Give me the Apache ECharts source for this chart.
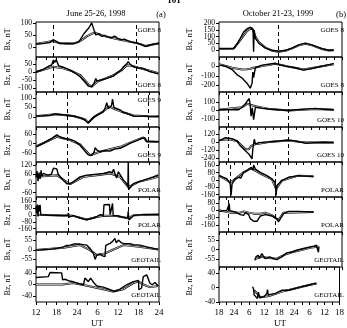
<!DOCTYPE html>
<html lang="en">
  <head>
    <meta charset="UTF-8" />
    <title>Magnetic field, June 1998 / October 1999</title>
    <script src="https://cdn.jsdelivr.net/npm/echarts@6.0.0/dist/echarts.min.js"></script>
    <style>
      html, body { margin: 0; padding: 0; background: #fff; }
    </style>
  </head>
  <body>
    <div id="main" style="width: 347px; height: 328px"></div>
    <script type="text/javascript">
      // hours from start of each interval, [hour, nT]
      // (a) June 25-26, 1998, start 12 UT
      const junG8BxObs = [[0,12],[2,14],[4,18],[5,30],[5.5,24],[7,15],[9,13],[11,14],[12.5,20],[14,55],[15.5,80],[16.3,100],[17,70],[17.5,50],[18.5,55],[19.2,44],[20,48],[21,42],[21.5,50],[22,38],[23,45],[24,35],[25,30],[26,32],[27,25],[28,20],[29,18],[30,14],[31,10],[32,2],[33,6],[34,10],[35,12],[36,15]];
      const junG8BxMod = [[0,12],[5,25],[7,15],[11,14],[13,25],[15,45],[17,60],[18,55],[20,45],[24,32],[28,20],[30,14],[32,4],[36,15]];
      const junG8BzObs = [[0,0],[2,15],[4,40],[4.6,44],[5.1,75],[5.5,60],[5.9,78],[6.6,40],[8,30],[10,12],[11.5,-8],[12.9,-29],[14,-55],[15.3,-88],[16.3,-92],[17,-70],[17.5,-40],[17.8,-55],[19,-50],[20.7,-40],[22.7,-25],[23.6,-8],[25,15],[25.6,33],[26.5,50],[27,65],[27.5,50],[28.5,33],[30,25],[31.4,23],[33,5],[35.8,-12]];
      const junG8BzMod = [[0,0],[5,33],[8,23],[10,10],[13,-20],[15.5,-80],[16.3,-92],[18,-60],[22.7,-20],[25,10],[26.6,42],[28,40],[30,27],[33,10],[35.8,-8]];
      const junG9BxObs = [[0,5],[2,6],[4,8],[5.6,16],[8,12],[10.9,5],[13,-5],[14.3,-16],[15.3,-33],[16.3,-10],[17.8,10],[19,20],[19.7,28],[20.3,50],[20.7,75],[21.2,45],[21.7,55],[22.1,60],[22.4,95],[22.8,50],[23.1,45],[24.6,38],[25.5,25],[26.5,20],[28.5,5],[30,3],[32,6],[33,2],[36,3]];
      const junG9BxMod = [[0,4],[5.6,14],[10.9,5],[14.3,-12],[15.3,-30],[17,0],[19.7,30],[21.5,55],[23,42],[25,28],[28.5,8],[33,4],[36,3]];
      const junG9BzObs = [[0,-20],[2.1,2],[4.6,35],[6.1,57],[7,45],[8,35],[10,28],[11.5,15],[12.9,-10],[14,-40],[15.3,-72],[16.3,-74],[17,-55],[17.3,-25],[17.8,-40],[18.7,-52],[20,-45],[21.7,-48],[23,-35],[24.6,-30],[26,-15],[27.5,2],[29.5,20],[30.9,35],[31.9,38],[32.4,15],[34,14],[36,12]];
      const junG9BzMod = [[0,-18],[6.1,45],[10,24],[12.9,-5],[15.8,-74],[18.7,-52],[24.6,-20],[29.5,25],[31.5,40],[32.4,15],[36,12]];
      const junPolBxObs = [[0,40],[0.3,80],[0.6,15],[0.9,70],[1.2,30],[1.5,85],[1.7,45],[2.1,65],[3.5,54],[4.5,60],[5.1,99],[6.1,95],[6.5,60],[7,54],[8,20],[9,-2],[9.5,-10],[10,-2],[10.9,10],[12.9,43],[14.8,54],[17.8,61],[19.7,65],[21.7,76],[22.3,70],[22.7,92],[23.1,65],[23.6,35],[24.1,76],[25,45],[25.6,20],[26.5,0],[26.9,-20],[27,140],[27.1,-40],[28.5,-2],[31.4,20],[34.3,43],[35.8,55]];
      const junPolBxMod = [[0,43],[6.1,54],[9,9],[10,-5],[13.9,43],[17.8,54],[21.7,65],[24.6,43],[27,-25],[30,10],[35.8,43]];
      const junPolBzObs = [[0,100],[0.2,20],[0.4,118],[0.6,-20],[0.8,110],[1.0,40],[1.2,115],[1.4,0],[1.7,0],[4,-5],[8,-10],[9.3,-5],[9.5,20],[9.7,-25],[10.9,-10],[12.9,-37],[14.8,-59],[16.8,-37],[17.8,-22],[18.7,0],[19.7,-5],[19.9,115],[21.5,118],[21.7,0],[22.2,-5],[22.4,130],[22.6,-10],[23.6,-11],[25.6,-30],[26.8,-37],[27,40],[27.2,-60],[28.5,-10],[31.4,5],[36,2]];
      const junPolBzMod = [[0,0],[8,-8],[10.9,-12],[14.8,-55],[17.8,-25],[19.7,-10],[23.6,-15],[27,-40],[28.5,-5],[36,3]];
      const junGeoBxObs = [[0,-2],[4.1,2],[6.1,8],[8,17],[9,25],[10,27],[11,33],[12.9,33],[14.8,27],[15.8,8],[16.8,-21],[17.3,-56],[17.8,-31],[18.7,-25],[19.5,-35],[20.2,-40],[20.4,25],[20.7,27],[21.7,37],[22.5,50],[23.1,66],[23.5,40],[24.1,56],[25,40],[25.6,37],[27.5,35],[28.5,30],[30.4,27],[32.4,17],[34.3,8],[35.8,2]];
      const junGeoBxMod = [[0,-2],[8,12],[12.9,27],[15.8,-2],[17.8,-31],[20.2,-21],[22.5,0],[25.6,27],[29,20],[32.4,12],[35.8,2]];
      const junGeoBzObs = [[0,24],[3.6,27],[4.1,41],[7.5,40],[7.8,16],[8.5,18],[9.5,13],[10.9,10],[11.9,5],[13.9,-1],[14.3,22],[14.8,16],[15.3,10],[16,22],[16.8,8],[17.8,-5],[19.7,-9],[21.7,-18],[23.1,-24],[24.6,-16],[26.5,-1],[28.5,10],[30,14],[30.1,-18],[30.9,-12],[31.4,27],[32.4,33],[33,15],[33.3,5],[34,-1],[34.8,7],[35.8,-5]];
      const junGeoBzMod = [[0,0],[7.8,0],[10.9,5],[15.3,-5],[19.7,-16],[22.5,-24],[25.6,-16],[28.5,5],[30,10],[31.4,0],[33.3,-9],[35.8,-5]];

      // (b) October 21-23, 1999, start 18 UT
      const octG8BxObs = [[0,12],[3,12],[5.7,13],[7,45],[8.3,87],[9.6,134],[10.3,120],[10.9,157],[11.5,150],[12.2,169],[12.9,180],[13.3,150],[13.5,-10],[13.7,150],[14.2,87],[15.5,52],[18.1,16],[20.7,0],[23.3,-7],[25.9,0],[28.5,16],[31.1,40],[33.7,52],[36.3,40],[40.2,12],[42.8,0],[44.8,2]];
      const octG8BxMod = [[0,12],[5.7,13],[8.3,75],[10.9,140],[12.9,165],[14.2,100],[15.5,60],[18.1,20],[20.7,-3],[23.3,-10],[25.9,-3],[28.5,14],[31.1,36],[33.7,48],[36.3,36],[40.2,10],[42.8,-2],[44.8,0]];
      const octG8BzObs = [[0,14],[2.5,3],[5.1,-33],[7,-87],[9,-123],[10.9,-178],[12.2,-232],[12.9,-178],[13.2,-60],[13.5,-120],[14.2,-14],[16.8,14],[22,33],[23.3,22],[25.9,3],[29.8,-14],[33,-40],[36.3,-22],[40.2,3],[44.8,29]];
      const octG8BzMod = [[0,22],[5.1,-14],[9,-33],[10.9,-30],[11.5,-40],[12.2,-25],[13.5,-14],[16.8,3],[22,29],[27,0],[33,-33],[38,-8],[44.8,22]];
      const octG10BxObs = [[0,8],[7.7,8],[9,37],[10.3,77],[10.9,105],[11.5,90],[11.8,138],[12.2,57],[12.5,-65],[13,30],[13.5,-105],[14.2,37],[16.8,24],[20,15],[23.3,8],[27.2,0],[30,8],[33.7,16],[37.6,24],[41,15],[44.8,8]];
      const octG10BxMod = [[0,8],[9,37],[11,77],[14.2,48],[20,16],[27.2,0],[37.6,16],[44.8,8]];
      const octG10BzObs = [[0,14],[2.5,62],[5.1,48],[7,14],[8.3,-58],[10.3,-130],[11.6,-178],[12.9,-250],[13.2,-100],[13.5,-106],[13.8,40],[14.2,-34],[15.5,-10],[19.4,0],[23.3,14],[27.2,29],[29.8,14],[33.7,-19],[37.6,-10],[41,-5],[44.8,-10]];
      const octG10BzMod = [[0,24],[3.8,38],[7,14],[8.3,-34],[10.3,-106],[11.6,-110],[12.5,-60],[14.2,-34],[19.4,0],[27.2,19],[33.7,-10],[44.8,-10]];
      const octPolBxObs = [[0,47],[1.8,29],[3.1,11],[4.4,-43],[4.7,-169],[5.1,-43],[6.4,11],[7.7,29],[8.5,20],[9.6,83],[10.5,95],[11.6,119],[12.6,137],[13.3,110],[13.5,162],[14.2,119],[16.1,83],[18.7,47],[20.6,11],[21.9,-25],[22.3,-169],[22.6,-60],[23.2,-61],[24.5,-7],[27.1,29],[31,47],[36.9,36]];
      const octPolBxMod = [[0,47],[4.4,-25],[5.5,-7],[9.6,83],[12.6,126],[16.5,65],[20.6,10],[22.3,-97],[24.5,-7],[31,47],[36.9,40]];
      const octPolBzObs = [[0,-11],[3.1,0],[3.8,20],[4,73],[4.2,-5],[4.4,-11],[6.4,-18],[8.3,-47],[9.6,-55],[10.3,-25],[11.6,-47],[12.2,-91],[13.5,-120],[14.8,-120],[16.1,-62],[18.1,-47],[20.7,-62],[22.6,-91],[23.2,-127],[23.9,-109],[25.2,-36],[27.1,-11],[31,-11],[36.9,-18]];
      const octPolBzMod = [[0,0],[4.4,-25],[8.3,-25],[9.6,-11],[11.6,-25],[13.5,-36],[16.1,-36],[18.1,-25],[20.7,-55],[23.2,-109],[25.2,-25],[36.9,-18]];
      const octGeoBxObs = [[14,-62],[14.5,-40],[15.3,-33],[15.8,-50],[16.7,-23],[17.2,-35],[18,-52],[19.9,-42],[21,-50],[22.5,-58],[24.5,-42],[26.4,-19],[28.4,-14],[30.3,-4],[32.9,6],[35.5,15],[37,20],[38,25],[38.5,0],[38.8,-15],[39,18]];
      const octGeoBxMod = [[14,-55],[16.7,-42],[19.9,-48],[22.5,-52],[24.5,-38],[26.4,-25],[28.4,-15],[32.9,0],[35.5,10],[38.8,18]];
      const octGeoBzObs = [[13.4,3],[13.8,-5],[14,-20],[15.3,-30],[15.7,-12],[16.1,-28],[16.6,-30],[18,-25],[18.6,-27],[19.1,-15],[19.3,-5],[19.6,-20],[19.9,-20],[22.5,-16],[25.1,-7],[27.7,-7],[30.3,-2],[32.9,3],[35.5,7],[37,10],[38.1,12],[38.5,16],[38.8,12]];
      const octGeoBzMod = [[14,-7],[16.6,-27],[19.9,-23],[25.1,-11],[30.3,-2],[35.5,7],[38.8,12]];

      // tick labels on the UT axes
      const junHourLabels = ["12", "18", "24", "6", "12", "18", "24"];
      const octHourLabels = ["18", "24", "6", "12", "18", "24", "6", "12", "18"];

      const FONT = "Liberation Serif";

      // one entry per panel: column, data, y range, y ticks, component, satellite, dashed times
      const panels = [
        { col: 0, obs: junG8BxObs, mod: junG8BxMod, y: [-42, 104], ticks: [0, 50, 100], comp: "Bx", sat: "GOES 8", satTop: true, dash: [5, 29.3] },
        { col: 0, obs: junG8BzObs, mod: junG8BzMod, y: [-125, 94], ticks: [-100, -50, 0, 50], comp: "Bz", sat: "GOES 8", dash: [5, 29.3] },
        { col: 0, obs: junG9BxObs, mod: junG9BxMod, y: [-53, 132], ticks: [0, 50, 100], comp: "Bx", sat: "GOES 9", satTop: true, dash: [9, 32.9] },
        { col: 0, obs: junG9BzObs, mod: junG9BzMod, y: [-118, 108], ticks: [-60, 0, 60], comp: "Bz", sat: "GOES 9", dash: [9, 32.9] },
        { col: 0, obs: junPolBxObs, mod: junPolBxMod, y: [-89, 140], ticks: [-60, 0, 60, 120], comp: "Bx", sat: "POLAR", dash: [9.5, 27] },
        { col: 0, obs: junPolBzObs, mod: junPolBzMod, y: [-198, 205], ticks: [-160, -80, 0, 80, 160], comp: "Bz", sat: "POLAR", dash: [9.5, 27] },
        { col: 0, obs: junGeoBxObs, mod: junGeoBxMod, y: [-100, 103], ticks: [-55, 0, 55], comp: "Bx", sat: "GEOTAIL", dash: [] },
        { col: 0, obs: junGeoBzObs, mod: junGeoBzMod, y: [-60, 60], ticks: [-40, 0, 40], comp: "Bz", sat: "GEOTAIL", dash: [] },
        { col: 1, obs: octG8BxObs, mod: octG8BxMod, y: [-49, 207], ticks: [0, 50, 100, 150, 200], comp: "Bx", sat: "GOES 8", satTop: true, dash: [23.3] },
        { col: 1, obs: octG8BzObs, mod: octG8BzMod, y: [-272, 100], ticks: [-200, -100, 0], comp: "Bz", sat: "GOES 8", dash: [23.3] },
        { col: 1, obs: octG10BxObs, mod: octG10BxMod, y: [-190, 213], ticks: [-100, 0, 100], comp: "Bx", sat: "GOES 10", dash: [3.5, 27.2] },
        { col: 1, obs: octG10BzObs, mod: octG10BzMod, y: [-298, 221], ticks: [-240, -120, 0, 120], comp: "Bz", sat: "GOES 10", dash: [3.5, 27.2] },
        { col: 1, obs: octPolBxObs, mod: octPolBxMod, y: [-186, 196], ticks: [-160, -80, 0, 80, 160], comp: "Bx", sat: "POLAR", dash: [4.4, 22] },
        { col: 1, obs: octPolBzObs, mod: octPolBzMod, y: [-237, 146], ticks: [-160, -80, 0, 80], comp: "Bz", sat: "POLAR", dash: [3.8, 22] },
        { col: 1, obs: octGeoBxObs, mod: octGeoBxMod, y: [-100, 101], ticks: [-55, 0, 55], comp: "Bx", sat: "GEOTAIL", dash: [] },
        { col: 1, obs: octGeoBzObs, mod: octGeoBzMod, y: [-40, 58], ticks: [-40, 0, 40], comp: "Bz", sat: "GEOTAIL", dash: [] },
      ];

      // layout
      const rowEdges = [22, 57, 92, 127, 162, 197, 232, 267, 302];
      const colLeft = [36, 219];
      const colWidth = 123;
      const colSpan = [36, 48];

      let myChart = echarts.init(document.getElementById("main"), null, { renderer: "canvas" });

      const grids = [], xAxes = [], yAxes = [], series = [], texts = [];

      panels.forEach((p, i) => {
        const row = i % 8;
        const span = colSpan[p.col];
        const labels = p.col === 0 ? junHourLabels : octHourLabels;
        const minorTicks = [];
        for (let h = 0; h <= span; h += 3) minorTicks.push(h);
        const labelTicks = labels.map((_, k) => k * 6);

        grids.push({
          left: colLeft[p.col], width: colWidth,
          top: rowEdges[row], height: rowEdges[row + 1] - rowEdges[row],
          show: true, borderColor: "#000", borderWidth: 1, backgroundColor: "transparent",
        });

        xAxes.push({
          gridIndex: i, type: "value", min: 0, max: span, position: "bottom",
          axisLine: { show: false, onZero: false }, splitLine: { show: false },
          axisTick: { show: true, length: 3, customValues: minorTicks, lineStyle: { color: "#000" } },
          axisLabel: {
            show: row === 7, customValues: labelTicks, margin: 6, hideOverlap: false,
            fontFamily: FONT, fontSize: 9, color: "#000",
            formatter: (v) => labels[Math.round(v / 6)],
          },
        });

        // tick labels sit close together, so they are split over two
        // overlaid axes (even / odd) to stop ECharts hiding any of them
        const evenTicks = p.ticks.filter((_, k) => k % 2 === 0);
        const oddTicks = p.ticks.filter((_, k) => k % 2 === 1);
        const yLabelStyle = { margin: 4, fontFamily: FONT, fontSize: 7.5, color: "#000" };

        yAxes.push({
          gridIndex: i, type: "value", min: p.y[0], max: p.y[1], position: "left",
          axisLine: { show: false, onZero: false }, splitLine: { show: false },
          axisTick: { show: true, length: 3, customValues: p.ticks, lineStyle: { color: "#000" } },
          axisLabel: Object.assign({ customValues: evenTicks }, yLabelStyle),
          name: p.comp + ", nT", nameLocation: "middle", nameRotate: 90,
          nameGap: p.col === 0 ? 24 : 25,
          nameTextStyle: { fontFamily: FONT, fontSize: 8, color: "#000" },
        });
        yAxes.push({
          gridIndex: i, type: "value", min: p.y[0], max: p.y[1], position: "left", offset: 0,
          axisLine: { show: false, onZero: false }, splitLine: { show: false },
          axisTick: { show: false },
          axisLabel: Object.assign({ show: oddTicks.length > 0, customValues: oddTicks.length ? oddTicks : [p.y[0]] }, yLabelStyle),
        });

        const yIdx = 2 * i;

        // model: drawn as a hollow double line
        series.push({
          type: "line", xAxisIndex: i, yAxisIndex: yIdx, data: p.mod,
          showSymbol: false, silent: true,
          lineStyle: { color: "#000", width: 2.0 },
        });
        series.push({
          type: "line", xAxisIndex: i, yAxisIndex: yIdx, data: p.mod,
          showSymbol: false, silent: true,
          lineStyle: { color: "#fff", width: 0.7 },
        });
        // observation
        series.push({
          type: "line", xAxisIndex: i, yAxisIndex: yIdx, data: p.obs,
          showSymbol: false, silent: true,
          lineStyle: { color: "#000", width: 1.4 },
          markLine: {
            silent: true, symbol: "none", label: { show: false },
            lineStyle: { color: "#000", width: 1, type: [4, 3] },
            data: p.dash.map((h) => ({ xAxis: h })),
          },
        });

        // satellite label
        const right = colLeft[p.col] + colWidth + 2;
        const top = rowEdges[row];
        const bottom = rowEdges[row + 1];
        texts.push({
          type: "text", z: 100,
          x: right, y: p.satTop ? top + 5 : bottom - 3,
          style: {
            text: p.sat, font: "7px " + FONT, fill: "#000",
            align: "right", verticalAlign: p.satTop ? "top" : "bottom",
          },
        });
      });

      // titles and axis captions
      const headTexts = [
        { x: 96, y: 14, text: "June 25-26, 1998", align: "center", size: 8.5 },
        { x: 161, y: 15, text: "(a)", align: "center", size: 8.5 },
        { x: 278, y: 14, text: "October 21-23, 1999", align: "center", size: 8.5 },
        { x: 341, y: 15, text: "(b)", align: "center", size: 8.5 },
        { x: 97, y: 324, text: "UT", align: "center", size: 9 },
        { x: 280, y: 324, text: "UT", align: "center", size: 9 },
      ];
      headTexts.forEach((t) => {
        texts.push({
          type: "text", z: 100, x: t.x, y: t.y,
          style: { text: t.text, font: t.size + "px " + FONT, fill: "#000", align: t.align, verticalAlign: "middle" },
        });
      });
      texts.push({
        type: "text", z: 100, x: 174, y: 1,
        style: { text: "101", font: "bold 9px " + FONT, fill: "#000", align: "center", verticalAlign: "middle" },
      });

      let options = {
        animation: false,
        backgroundColor: "#fff",
        grid: grids,
        xAxis: xAxes,
        yAxis: yAxes,
        series: series,
        graphic: texts,
      };

      myChart.setOption(options);
    </script>
  </body>
</html>
